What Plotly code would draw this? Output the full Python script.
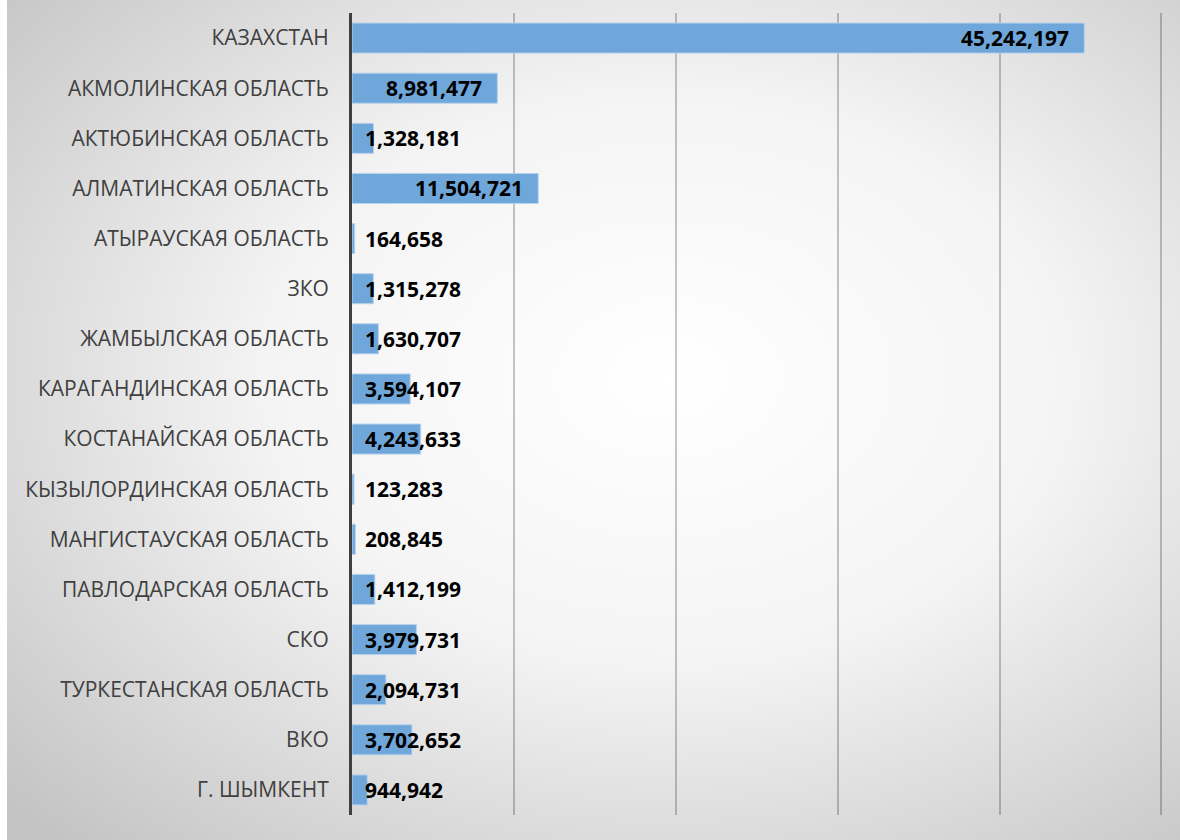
import base64
import plotly.graph_objects as go

categories = [
    "КАЗАХСТАН", "АКМОЛИНСКАЯ ОБЛАСТЬ", "АКТЮБИНСКАЯ ОБЛАСТЬ", "АЛМАТИНСКАЯ ОБЛАСТЬ",
    "АТЫРАУСКАЯ ОБЛАСТЬ", "ЗКО", "ЖАМБЫЛСКАЯ ОБЛАСТЬ", "КАРАГАНДИНСКАЯ ОБЛАСТЬ",
    "КОСТАНАЙСКАЯ ОБЛАСТЬ", "КЫЗЫЛОРДИНСКАЯ ОБЛАСТЬ", "МАНГИСТАУСКАЯ ОБЛАСТЬ",
    "ПАВЛОДАРСКАЯ ОБЛАСТЬ", "СКО", "ТУРКЕСТАНСКАЯ ОБЛАСТЬ", "ВКО", "Г. ШЫМКЕНТ",
]
values = [
    45242197, 8981477, 1328181, 11504721, 164658, 1315278, 1630707, 3594107,
    4243633, 123283, 208845, 1412199, 3979731, 2094731, 3702652, 944942,
]

W, H = 1180, 840
ML, MR, MT, MB = 345, 24, 13, 25
PW, PH = W - ML - MR, H - MT - MB

svg = f'''<svg xmlns="http://www.w3.org/2000/svg" width="{W}" height="{H}">
<defs><radialGradient id="g" cx="0.56" cy="0.45" r="0.75" gradientUnits="objectBoundingBox">
<stop offset="0" stop-color="#ffffff"/><stop offset="0.45" stop-color="#f4f4f4"/>
<stop offset="1" stop-color="#c4c4c4"/></radialGradient></defs>
<rect width="{W}" height="{H}" fill="url(#g)"/></svg>'''
bg_uri = "data:image/svg+xml;base64," + base64.b64encode(svg.encode()).decode()

fig = go.Figure()
fig.add_trace(go.Bar(
    x=values, y=categories, orientation="h",
    marker=dict(color="#6fa7da", line=dict(color="#b9d3ec", width=1)),
    hoverinfo="x+y",
))

for c, v in zip(categories, values):
    big = v > 8_000_000
    fig.add_annotation(
        x=v if big else 0, y=c, xref="x", yref="y",
        text=f"<b>{v:,}</b>", showarrow=False,
        xanchor="right" if big else "left",
        xshift=-13 if big else 11,
        font=dict(family="Open Sans", size=21, color="#000000"),
    )

fig.add_layout_image(dict(
    source=bg_uri, xref="paper", yref="paper",
    x=-ML / PW, y=1 + MT / PH, sizex=W / PW, sizey=H / PH,
    xanchor="left", yanchor="top", sizing="stretch", layer="below",
))

fig.update_layout(
    width=W, height=H,
    margin=dict(l=ML, r=MR, t=MT, b=MB),
    paper_bgcolor="#d9d9d9", plot_bgcolor="rgba(0,0,0,0)",
    bargap=0.40, showlegend=False,
    xaxis=dict(range=[0, 50_100_000], tick0=0, dtick=10_000_000, showticklabels=False,
               showgrid=True, gridcolor="rgba(0,0,0,0.22)", gridwidth=1.5, zeroline=False,
               showline=False, fixedrange=True),
    yaxis=dict(autorange="reversed", showline=True, linecolor="#3f3f3f", linewidth=3,
               ticks="", ticklabelstandoff=16,
               tickfont=dict(family="Open Sans", size=21, color="#404040")),
)

fig.write_html("out.html", post_script="document.body.style.margin='0 0 0 7px';")
